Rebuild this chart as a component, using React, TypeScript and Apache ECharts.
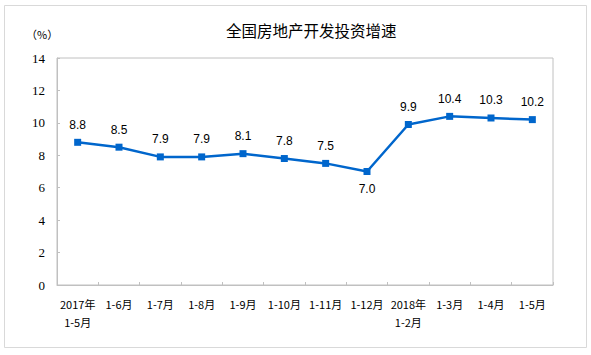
import React, { useEffect, useRef } from "react";
import * as echarts from "echarts";

const categories = [
  "2017年\n1-5月", "1-6月", "1-7月", "1-8月", "1-9月", "1-10月", "1-11月", "1-12月",
  "2018年\n1-2月", "1-3月", "1-4月", "1-5月",
];
const growth = [8.8, 8.5, 7.9, 7.9, 8.1, 7.8, 7.5, 7.0, 9.9, 10.4, 10.3, 10.2];
const belowLabelIndex = [7];
const title = "全国房地产开发投资增速";
const unitLabel = "（%）";

export default function App() {
  const ref = useRef<HTMLDivElement>(null);
  useEffect(() => {
    document.body.style.margin = "0";
    const chart = echarts.init(ref.current!, null, { renderer: "svg" });
    chart.setOption({
      animation: false,
      backgroundColor: "#ffffff",
      title: {
        text: title,
        left: 221,
        top: 17,
        textStyle: { fontSize: 15.5, fontWeight: "normal", color: "#000", fontFamily: "Noto Sans CJK SC" },
      },
      graphic: [
        {
          type: "rect",
          shape: { x: 4.5, y: 5.5, width: 582, height: 342 },
          style: { fill: "none", stroke: "#d9d9d9", lineWidth: 1 },
        },
        {
          type: "text",
          x: 26,
          y: 28,
          style: { text: unitLabel, fontSize: 11, fill: "#000", fontFamily: "Noto Sans CJK SC" },
        },
      ],
      grid: {
        left: 57,
        top: 58,
        right: 38,
        bottom: 70,
        show: true,
        borderColor: "#c0c0c0",
        borderWidth: 1,
      },
      xAxis: {
        type: "category",
        data: categories,
        boundaryGap: true,
        axisLine: { lineStyle: { color: "#c0c0c0" } },
        axisTick: { show: true, inside: true, length: 3, lineStyle: { color: "#c0c0c0" } },
        axisLabel: {
          interval: 0,
          margin: 10,
          color: "#000",
          fontSize: 11,
          lineHeight: 18,
          fontFamily: "Noto Sans CJK SC",
        },
      },
      yAxis: {
        type: "value",
        min: 0,
        max: 14,
        interval: 2,
        splitLine: { show: false },
        axisLine: { show: true, lineStyle: { color: "#c0c0c0" } },
        axisTick: { show: true, inside: true, length: 3, lineStyle: { color: "#c0c0c0" } },
        axisLabel: { margin: 12, color: "#000", fontSize: 13, fontFamily: "Liberation Serif" },
      },
      series: [
        {
          type: "line",
          data: growth.map((v, i) => ({
            value: v,
            label: { position: belowLabelIndex.includes(i) ? "bottom" : "top" },
          })),
          symbol: "rect",
          symbolSize: 7,
          itemStyle: { color: "#0066cc" },
          lineStyle: { color: "#0066cc", width: 2.5 },
          label: {
            show: true,
            distance: 8,
            formatter: (p: any) => Number(p.value).toFixed(1),
            color: "#000",
            fontSize: 12,
            fontFamily: "Liberation Sans",
          },
        },
      ],
    });
    return () => chart.dispose();
  }, []);
  return <div ref={ref} style={{ width: 591, height: 355 }} />;
}
